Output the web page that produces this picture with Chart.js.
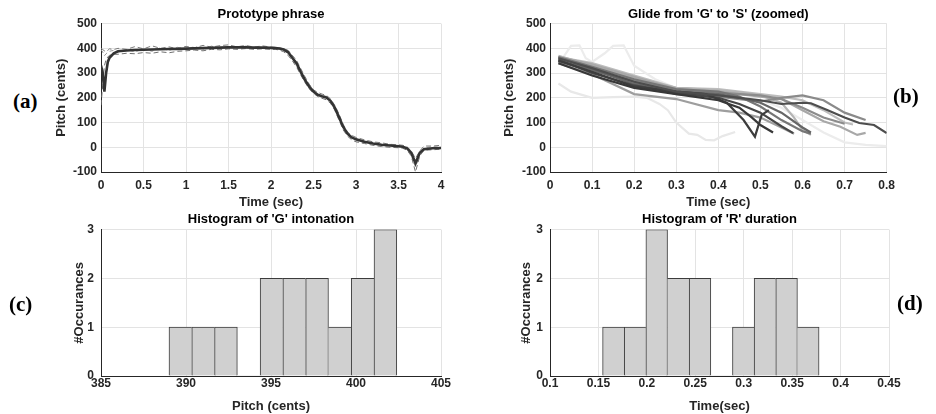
<!DOCTYPE html>
<html lang="en">
<head>
<meta charset="UTF-8">
<title>Pitch analysis</title>
<script src="https://cdn.jsdelivr.net/npm/chart.js@4.4.0/dist/chart.umd.min.js"></script>
<style>
  html, body { margin: 0; padding: 0; background: #fff; }
  #page { position: relative; width: 936px; height: 414px; overflow: hidden; }
  canvas { position: absolute; }
  .tag { position: absolute; font: bold 21px "Liberation Serif", "Times New Roman", serif; line-height: 21px; color: #000; }
</style>
</head>
<body>
<div id="page">
  <canvas id="proto" width="413" height="210" style="left:40px;top:0px"></canvas>
  <canvas id="glide" width="411" height="210" style="left:490px;top:0px"></canvas>
  <canvas id="histG" width="413" height="209" style="left:40px;top:205px"></canvas>
  <canvas id="histR" width="411" height="209" style="left:490px;top:205px"></canvas>
  <div class="tag" style="left:13px;top:91px">(a)</div>
  <div class="tag" style="left:893px;top:86px">(b)</div>
  <div class="tag" style="left:9px;top:294px">(c)</div>
  <div class="tag" style="left:897px;top:293px">(d)</div>
</div>

<script>
// (a) prototype phrase: mean contour + three renditions
const protoTime = [0, 0.02, 0.04, 0.06, 0.08, 0.1, 0.15,
  0.2, 0.3, 0.4, 0.5, 0.6, 0.7, 0.8, 0.9, 1.0, 1.1, 1.2, 1.3, 1.4, 1.5, 1.6, 1.7, 1.8, 1.9, 2.0,
  2.05, 2.1, 2.15, 2.2, 2.25, 2.3, 2.35, 2.4, 2.45, 2.5, 2.55, 2.6, 2.65, 2.7, 2.75, 2.8, 2.85, 2.9, 2.95, 3.0,
  3.1, 3.2, 3.3, 3.4, 3.5, 3.55, 3.6, 3.65, 3.7, 3.75, 3.8, 3.9, 4.0];
const protoMean = [330, 300, 225, 300, 345, 362, 380,
  388, 391, 393, 394, 395, 396, 397, 398, 399, 400, 401, 402, 403, 404, 404, 404, 403, 403, 402,
  401, 399, 395, 385, 362, 340, 305, 272, 245, 225, 212, 206, 201, 188, 160, 122, 82, 55, 40, 32,
  22, 15, 10, 7, 4, 2, -4, -22, -65, -22, -8, -4, -3];
const protoTakeA = [400, 395, 390, 385, 392, 398, 395,
  400, 396, 407, 398, 410, 400, 406, 398, 408, 402, 412, 405, 411, 414, 406, 412, 405, 410, 405,
  404, 402, 398, 392, 372, 352, 318, 285, 255, 232, 222, 215, 210, 196, 170, 135, 92, 62, 48, 40,
  30, 22, 18, 12, 10, 8, 2, -15, -45, -15, 5, 5, 8];
const protoTakeB = [170, 250, 330, 355, 365, 372, 376,
  376, 380, 378, 383, 380, 386, 382, 388, 390, 393, 390, 396, 394, 398, 396, 399, 396, 398, 396,
  396, 393, 386, 372, 350, 325, 292, 262, 236, 218, 205, 198, 192, 178, 150, 110, 70, 45, 30, 22,
  15, 8, 3, 0, -2, -4, -12, -35, -100, -35, -12, -10, -8];
const protoTakeC = [395, 385, 370, 378, 384, 388, 392,
  385, 395, 386, 398, 388, 402, 391, 404, 395, 407, 397, 409, 399, 408, 400, 409, 398, 408, 399,
  398, 396, 390, 380, 358, 330, 298, 268, 240, 222, 210, 210, 205, 185, 155, 118, 78, 50, 38, 28,
  18, 20, 8, 12, 2, 5, -8, -30, -80, -30, -2, 2, 0];

// (b) glide G -> S, one time/pitch pair per rendition
const glideTimes = [
  [0.02, 0.1, 0.2, 0.3, 0.4, 0.45, 0.5, 0.55, 0.6, 0.62, 0.66, 0.7, 0.735, 0.77, 0.8],
  [0.02, 0.1, 0.2, 0.3, 0.4, 0.45, 0.48, 0.5, 0.53],
  [0.02, 0.1, 0.2, 0.3, 0.37, 0.42, 0.46, 0.487, 0.503, 0.52],
  [0.02, 0.1, 0.2, 0.3, 0.4, 0.45, 0.5, 0.55, 0.578],
  [0.02, 0.1, 0.2, 0.3, 0.4, 0.45, 0.5, 0.55, 0.6, 0.62],
  [0.02, 0.1, 0.2, 0.3, 0.4, 0.45, 0.5, 0.55, 0.6, 0.62],
  [0.02, 0.1, 0.2, 0.3, 0.4, 0.45, 0.5, 0.55, 0.6, 0.65, 0.7, 0.75],
  [0.02, 0.1, 0.2, 0.3, 0.4, 0.5, 0.55, 0.6, 0.65, 0.7],
  [0.02, 0.1, 0.2, 0.3, 0.4, 0.45, 0.5, 0.55, 0.58],
  [0.02, 0.1, 0.2, 0.3, 0.4, 0.45, 0.5, 0.55, 0.6, 0.65, 0.69, 0.73, 0.75],
  [0.02, 0.1, 0.2, 0.3, 0.4, 0.45, 0.5, 0.55, 0.58, 0.6, 0.62],
  [0.02, 0.1, 0.2, 0.3, 0.4, 0.45, 0.5, 0.55, 0.6, 0.65, 0.7, 0.72],
  [0.03, 0.05, 0.07, 0.085, 0.1, 0.13, 0.15, 0.175, 0.2, 0.25, 0.3, 0.35, 0.4, 0.45, 0.5, 0.55, 0.6, 0.65, 0.7, 0.75, 0.8],
  [0.02, 0.05, 0.1, 0.15, 0.2, 0.23, 0.26, 0.28, 0.3, 0.33, 0.35, 0.37, 0.39, 0.41, 0.44]
];
const glidePitch = [
  [360, 320, 265, 225, 210, 200, 190, 175, 180, 178, 150, 120, 98, 90, 57],
  [340, 290, 240, 215, 190, 160, 120, 90, 60],
  [350, 305, 245, 225, 215, 180, 110, 43, 131, 150],
  [355, 300, 250, 220, 200, 175, 140, 85, 57],
  [350, 315, 255, 225, 215, 200, 180, 140, 80, 60],
  [365, 325, 275, 235, 225, 205, 165, 110, 65, 55],
  [360, 320, 260, 215, 205, 195, 185, 200, 210, 190, 140, 110],
  [345, 310, 270, 230, 220, 210, 195, 160, 120, 95],
  [340, 295, 215, 195, 150, 140, 120, 80, 55],
  [365, 335, 285, 235, 225, 215, 205, 195, 150, 105, 83, 50, 58],
  [370, 330, 280, 240, 230, 222, 210, 180, 120, 70, 50],
  [365, 340, 290, 240, 235, 225, 215, 205, 190, 150, 100, 92],
  [360, 410, 412, 360, 345, 380, 410, 412, 330, 275, 240, 225, 210, 200, 190, 160, 110, 60, 20, 10, 5],
  [258, 225, 200, 203, 205, 200, 175, 150, 100, 55, 50, 30, 28, 45, 62]
];
const glideGrays = ['#4d4d4d', '#383838', '#3d3d3d', '#474747', '#666666', '#767676', '#8a8a8a',
  '#8c8c8c', '#9e9e9e', '#a8a8a8', '#b4b4b4', '#bdbdbd', '#ececec', '#e8e8e8'];

// (c) histogram of G intonation
const gEdges = [389.00, 390.34, 391.68, 393.02, 394.36, 395.70, 397.04, 398.38, 399.72, 401.06, 402.40];
const gCounts = [1, 1, 1, 0, 2, 2, 2, 1, 2, 3];

// (d) histogram of R duration
const rEdges = [0.1543, 0.17665, 0.199, 0.22135, 0.2437, 0.26605, 0.2884, 0.31075, 0.3331, 0.35545, 0.3778];
const rCounts = [1, 1, 3, 2, 2, 0, 1, 2, 2, 1];

const FONT = '"Liberation Sans", Arial, sans-serif';
const INK = '#262626';
const GRID = '#e3e3e3';

const pts = (xs, ys) => xs.map((x, i) => ({ x: x, y: ys[i] }));
const fmt = v => String(Math.round(v * 1000) / 1000);

function axes(o) {
  return {
    x: {
      type: 'linear', min: o.xMin, max: o.xMax, offset: false,
      afterFit: s => { s.height = 38; },
      border: { display: true, color: INK, width: 1 },
      grid: { color: GRID, drawTicks: false, offset: false },
      ticks: { stepSize: o.xStep, padding: o.xPad, color: INK, maxRotation: 0, autoSkip: false,
        font: { family: FONT, size: 12, weight: 'bold' }, callback: fmt },
      title: { display: true, text: o.xTitle, padding: 0, color: INK,
        font: { family: FONT, size: 13, weight: 'bold' } }
    },
    y: {
      type: 'linear', min: o.yMin, max: o.yMax,
      afterFit: s => { s.width = o.yWidth; },
      border: { display: true, color: INK, width: 1 },
      grid: { color: GRID, drawTicks: false },
      ticks: { stepSize: o.yStep, padding: o.yPad, color: INK,
        font: { family: FONT, size: 12, weight: 'bold' }, callback: fmt },
      title: { display: true, text: o.yTitle, padding: { top: o.yTitlePad, bottom: 0 }, color: INK,
        font: { family: FONT, size: 13, weight: 'bold' } }
    }
  };
}

function plugins(title, pad) {
  return {
    legend: { display: false },
    tooltip: { enabled: false },
    title: { display: true, text: title, fullSize: false, color: '#000',
      padding: pad, font: { family: FONT, size: 13, weight: 'bold' } }
  };
}

const base = { responsive: false, animation: false, devicePixelRatio: 1, events: [],
  layout: { padding: { top: 0, right: 12, bottom: 0, left: 0 } } };

// (a)
new Chart(document.getElementById('proto'), {
  type: 'line',
  data: {
    datasets: [
      { data: pts(protoTime, protoMean), borderColor: '#333333', borderWidth: 2.6 },
      { data: pts(protoTime, protoTakeA), borderColor: '#7c7c7c', borderWidth: 1, borderDash: [5, 3] },
      { data: pts(protoTime, protoTakeB), borderColor: '#707070', borderWidth: 1, borderDash: [5, 3] },
      { data: pts(protoTime, protoTakeC), borderColor: '#999999', borderWidth: 1, borderDash: [4, 3] }
    ]
  },
  options: Object.assign({}, base, {
    elements: { point: { radius: 0 }, line: { tension: 0 } },
    scales: axes({ xMin: 0, xMax: 4, xStep: 0.5, xPad: 6, xTitle: 'Time (sec)',
      yMin: -100, yMax: 500, yStep: 100, yPad: 4, yWidth: 61, yTitlePad: 14, yTitle: 'Pitch (cents)' }),
    plugins: plugins('Prototype phrase', { top: 7, bottom: 1 })
  })
});

// (b)
new Chart(document.getElementById('glide'), {
  type: 'line',
  data: {
    datasets: glideTimes.map((t, i) => ({
      data: pts(t, glidePitch[i]), borderColor: glideGrays[i], borderWidth: 2.2
    }))
  },
  options: Object.assign({}, base, {
    elements: { point: { radius: 0 }, line: { tension: 0 } },
    scales: axes({ xMin: 0, xMax: 0.8, xStep: 0.1, xPad: 6, xTitle: 'Time (sec)',
      yMin: -100, yMax: 500, yStep: 100, yPad: 4, yWidth: 60, yTitlePad: 12, yTitle: 'Pitch (cents)' }),
    plugins: plugins("Glide from 'G' to 'S' (zoomed)", { top: 7, bottom: 1 })
  })
});

// histogram bars: one bar per bin, shared edges drawn once
function histogram(id, edges, counts, o) {
  const centers = counts.map((c, i) => (edges[i] + edges[i + 1]) / 2);
  new Chart(document.getElementById(id), {
    type: 'bar',
    data: {
      datasets: [{
        data: pts(centers, counts),
        backgroundColor: '#d0d0d0',
        borderColor: '#3c3c3c',
        borderSkipped: false,
        borderWidth: ctx => {
          const i = ctx.dataIndex;
          const prev = i > 0 ? counts[i - 1] : 0;
          const next = i < counts.length - 1 ? counts[i + 1] : 0;
          const c = counts[i];
          return { top: c > 0 ? 1 : 0, bottom: 0, left: c > 0 && c >= prev ? 1 : 0, right: c > next ? 1 : 0 };
        },
        barPercentage: 1,
        categoryPercentage: 1
      }]
    },
    options: Object.assign({}, base, {
      scales: axes(o),
      plugins: plugins(o.title, { top: 7, bottom: 2 })
    })
  });
}

histogram('histG', gEdges, gCounts, { xMin: 385, xMax: 405, xStep: 5, xPad: 0, xTitle: 'Pitch (cents)',
  yMin: 0, yMax: 3, yStep: 1, yPad: 7, yWidth: 61, yTitlePad: 32, yTitle: '#Occurances',
  title: "Histogram of 'G' intonation" });

histogram('histR', rEdges, rCounts, { xMin: 0.1, xMax: 0.45, xStep: 0.05, xPad: 0, xTitle: 'Time(sec)',
  yMin: 0, yMax: 3, yStep: 1, yPad: 7, yWidth: 60, yTitlePad: 29, yTitle: '#Occurances',
  title: "Histogram of 'R' duration" });
</script>
</body>
</html>
